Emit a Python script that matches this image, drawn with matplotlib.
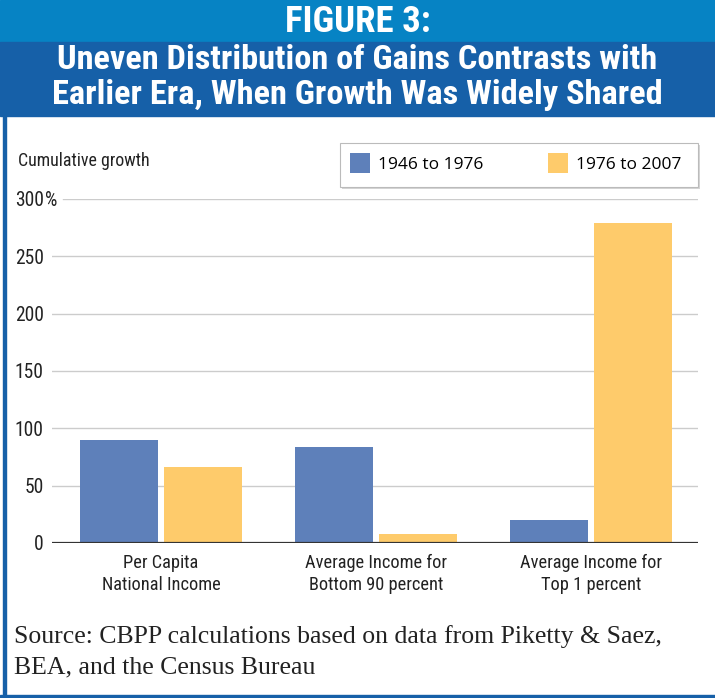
import matplotlib
matplotlib.use("Agg")
import matplotlib.pyplot as plt
import numpy as np
from matplotlib import font_manager as fm
from matplotlib.patches import Rectangle, Patch
from matplotlib.legend_handler import HandlerPatch

# data
categories = ["Per Capita\nNational Income",
              "Average Income for\nBottom 90 percent",
              "Average Income for\nTop 1 percent"]
growth_1946_1976 = [90, 84, 20]
growth_1976_2007 = [66, 8, 279]
series_labels = ["1946 to 1976", "1976 to 2007"]
yticks = [0, 50, 100, 150, 200, 250, 300]

BLUE = "#5e80ba"
YELLOW = "#fecb6b"
HEAD_TOP = "#0683c4"
HEAD_BOT = "#1660a8"
INK = "#222222"


def pick_condensed(bold):
    # look for a narrow / condensed face among the installed fonts
    prefs = ["Roboto", "Liberation", "Open Sans", "Noto Sans", "DejaVu Sans"]
    found = []
    for f in fm.fontManager.ttflist:
        fn = f.fname.lower()
        narrow = ("condensed" in fn or "narrow" in fn or
                  str(f.stretch) in ("condensed", "semi-condensed", "extra-condensed"))
        if not narrow or f.style != "normal" or "semi" in fn or "extra" in fn:
            continue
        w = f.weight if isinstance(f.weight, int) else (700 if "bold" in str(f.weight) else 400)
        if bold and w < 600 or not bold and w != 400:
            continue
        rank = next((i for i, p in enumerate(prefs) if f.name.startswith(p)), 99)
        found.append((rank, f.fname))
    if found:
        return fm.FontProperties(fname=sorted(found)[0][1])
    return fm.FontProperties(family="Roboto", weight="bold" if bold else "normal")


cond = pick_condensed(False)
cond_bold = pick_condensed(True)
installed = {f.name for f in fm.fontManager.ttflist}
legend_family = "Open Sans" if "Open Sans" in installed else "DejaVu Sans"
serif_family = "Liberation Serif" if "Liberation Serif" in installed else "DejaVu Serif"


def fp(base, size):
    p = base.copy()
    p.set_size(size)
    return p


W, H = 715, 698
fig = plt.figure(figsize=(W / 100, H / 100), dpi=100)
renderer = fig.canvas.get_renderer()


def fx(px):
    return px / W


def fy(py):
    return 1 - py / H


def fit(t, target):
    w = t.get_window_extent(renderer).width
    t.set_fontsize(t.get_fontsize() * target / w)
    return t.get_fontsize()


# header bands and frame
fig.patches.append(Rectangle((0, fy(42)), 1, 42 / H, transform=fig.transFigure,
                             color=HEAD_TOP, zorder=0))
fig.patches.append(Rectangle((0, fy(116)), 1, 74 / H, transform=fig.transFigure,
                             color=HEAD_BOT, zorder=0))
fig.patches.append(Rectangle((fx(3), 0), 3 / W, fy(116), transform=fig.transFigure,
                             color=HEAD_BOT, zorder=0))
fig.patches.append(Rectangle((0, 0), 1, 3 / H, transform=fig.transFigure,
                             color=HEAD_BOT, zorder=0))

t0 = fig.text(0.5, fy(22), "FIGURE 3:", color="white",
              fontproperties=fp(cond_bold, 20), ha="center", va="center")
fit(t0, 146)
t1 = fig.text(0.5, fy(60), "Uneven Distribution of Gains Contrasts with", color="white",
              fontproperties=fp(cond_bold, 20), ha="center", va="center")
s = fit(t1, 600)
fig.text(0.5, fy(95), "Earlier Era, When Growth Was Widely Shared", color="white",
         fontproperties=fp(cond_bold, s), ha="center", va="center")

# axes
left, right = 52, 698
bottom, top = 543, 199
ax = fig.add_axes([fx(left), fy(bottom), (right - left) / W, (bottom - top) / H])
x = np.arange(len(categories))
bw = 0.363
off = 0.196
ax.bar(x - off, growth_1946_1976, bw, color=BLUE, zorder=2)
ax.bar(x + off, growth_1976_2007, bw, color=YELLOW, zorder=2)
ax.set_xlim(-0.507, 2.498)
ax.set_ylim(0, 300)

for sp in ax.spines.values():
    sp.set_visible(False)
for t in yticks[1:]:
    xmin = 11 / (right - left) if t == 300 else 0
    ax.axhline(t, xmin=xmin, xmax=1, color="#cccccc", lw=1.0, zorder=1)
ax.axhline(0, color="#333333", lw=1.6, zorder=3)

# label sizes fitted to the reference widths
probe = fig.text(0, 0, "250", fontproperties=fp(cond, 13))
ysize = fit(probe, 29)
probe.set_text("Average Income for")
probe.set_fontsize(13)
xsize = fit(probe, 142)
probe.set_text("Cumulative growth")
probe.set_fontsize(13)
csize = fit(probe, 131)
probe.remove()

ax.set_yticks(yticks)
ax.set_yticklabels([str(t) for t in yticks], fontproperties=fp(cond, ysize), color=INK)
ax.tick_params(axis="y", length=0, pad=6)
ax.text(-7 / (right - left), 300, "%", fontproperties=fp(cond, ysize), color=INK,
        ha="left", va="center_baseline", transform=ax.get_yaxis_transform())
ax.set_xticks(x)
ax.set_xticklabels(categories, fontproperties=fp(cond, xsize), color=INK,
                   linespacing=1.25)
ax.tick_params(axis="x", length=0, pad=8)

fig.text(fx(18), fy(161), "Cumulative growth", fontproperties=fp(cond, csize),
         color=INK, ha="left", va="center")


def square(legend, orig_handle, xdescent, ydescent, width, height, fontsize):
    return Rectangle((-xdescent, -ydescent + height / 2 - width / 2), width, width)


# legend box with a soft shadow
fig.patches.append(Rectangle((fx(342), fy(189)), 358 / W, 44 / H, transform=fig.transFigure,
                             facecolor="#c4c4c4", edgecolor="none", alpha=0.7, zorder=4))
fig.patches.append(Rectangle((fx(340), fy(187)), 358 / W, 44 / H, transform=fig.transFigure,
                             facecolor="white", edgecolor="#bbbbbb", lw=0.8, zorder=5))
handles = [Patch(facecolor=BLUE), Patch(facecolor=YELLOW)]
leg = fig.legend(handles, series_labels, loc="center left",
                 bbox_to_anchor=(fx(350), fy(165)), ncol=2,
                 prop={"family": legend_family, "size": 12.5},
                 handler_map={Patch: HandlerPatch(patch_func=square)},
                 frameon=False, handlelength=1.15,
                 handletextpad=0.45, columnspacing=3.75, borderpad=0,
                 borderaxespad=0)
leg.set_zorder(6)

src1 = fig.text(fx(14), fy(643), "Source: CBPP calculations based on data from Piketty & Saez,",
                family=serif_family, fontsize=18, color=INK, ha="left", va="baseline")
ssize = fit(src1, 646)
fig.text(fx(14), fy(673), "BEA, and the Census Bureau",
         family=serif_family, fontsize=ssize, color=INK, ha="left", va="baseline")

fig.savefig("out.png", dpi=100)
